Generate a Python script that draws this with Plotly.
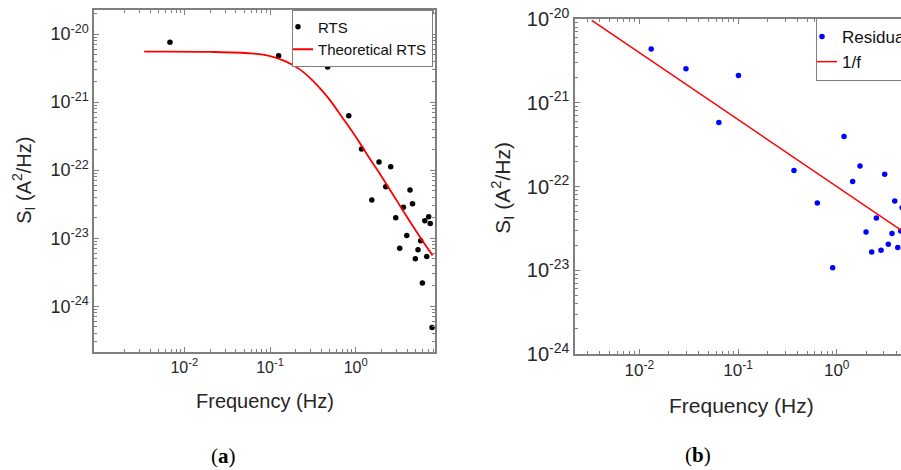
import plotly.graph_objects as go

# ---------------- data ----------------
# Panel (a): RTS spectrum
rts_freq = [0.0068, 0.126, 0.47, 0.83, 1.17, 1.54, 1.87, 2.24, 2.56, 2.93, 3.26, 3.60,
            3.94, 4.30, 4.60, 4.96, 5.33, 5.73, 5.99, 6.40, 6.74, 7.10, 7.40, 7.77]
rts_psd = [7.55e-21, 4.8e-21, 3.27e-21, 6.3e-22, 2.04e-22, 3.63e-23, 1.32e-22, 5.7e-23,
           1.12e-22, 2.0e-23, 7.1e-24, 2.86e-23, 1.1e-23, 5.1e-23, 3.2e-23, 5.0e-24,
           6.8e-24, 9.2e-24, 2.2e-24, 1.8e-23, 5.4e-24, 2.06e-23, 1.65e-23, 4.9e-25]
theo_freq = [0.0034, 0.02, 0.06, 0.1, 0.15, 0.22, 0.3, 0.4, 0.5, 0.7, 1.0, 1.5, 2.0,
             3.0, 4.5, 6.0, 7.9]
theo_psd = [5.5e-21, 5.46e-21, 5.2e-21, 4.75e-21, 4.0e-21, 3.05e-21, 2.2e-21, 1.5e-21,
            1.07e-21, 5.9e-22, 3.1e-22, 1.4e-22, 8.1e-23, 3.6e-23, 1.6e-23, 9.2e-24,
            5.6e-24]

# Panel (b): residual spectrum
res_freq = [0.0132, 0.0297, 0.064, 0.101, 0.369, 0.636, 0.91, 1.186, 1.45, 1.72, 1.98,
            2.26, 2.52, 2.81, 3.06, 3.33, 3.63, 3.87, 4.15, 4.45, 4.59]
res_psd = [4.38e-21, 2.55e-21, 5.8e-22, 2.12e-21, 1.55e-22, 6.35e-23, 1.07e-23, 3.95e-22,
           1.15e-22, 1.76e-22, 2.86e-23, 1.65e-23, 4.2e-23, 1.73e-23, 1.4e-22, 2.04e-23,
           2.74e-23, 6.7e-23, 1.87e-23, 2.94e-23, 5.6e-23]
fit_freq = [0.0033, 8.0]
fit_psd = [9.6e-21, 1.9e-23]

# tick labels
x_tickvals = [0.01, 0.1, 1]
x_ticktext = ["10<sup>-2</sup>", "10<sup>-1</sup>", "10<sup>0</sup>"]
y_tickvals = [1e-24, 1e-23, 1e-22, 1e-21, 1e-20]
y_ticktext = ["10<sup>-24</sup>", "10<sup>-23</sup>", "10<sup>-22</sup>",
              "10<sup>-21</sup>", "10<sup>-20</sup>"]

# ---------------- figure ----------------
W, H = 901, 470
FONT = "Liberation Sans, Arial, sans-serif"
TXT = "#262626"
AX = "#7f7f7f"


def minor_vals(lo, hi):
    vals = []
    for e in range(lo, hi):
        for m in range(2, 10):
            vals.append(m * 10.0 ** e)
    return vals


fig = go.Figure()

fig.add_trace(go.Scatter(x=rts_freq, y=rts_psd, mode="markers", name="RTS",
                         marker=dict(color="black", size=5.5),
                         xaxis="x", yaxis="y", legend="legend"))
fig.add_trace(go.Scatter(x=theo_freq, y=theo_psd, mode="lines", name="Theoretical RTS",
                         line=dict(color="#ff0000", width=1.8, shape="spline"),
                         xaxis="x", yaxis="y", legend="legend"))
fig.add_trace(go.Scatter(x=res_freq, y=res_psd, mode="markers", name="Residual",
                         marker=dict(color="#0000ff", size=5.5),
                         xaxis="x2", yaxis="y2", legend="legend2"))
fig.add_trace(go.Scatter(x=fit_freq, y=fit_psd, mode="lines", name="1/f",
                         line=dict(color="#ff0000", width=1.5),
                         xaxis="x2", yaxis="y2", legend="legend2"))


def axis_common(size):
    return dict(type="log", showgrid=False, zeroline=False, showline=True,
                linecolor=AX, linewidth=1.5, ticks="inside", ticklen=5,
                tickcolor=AX, tickwidth=1,
                tickfont=dict(family=FONT, size=size, color=TXT))


xa = axis_common(16)
xa.update(domain=[94 / W, 435 / W], range=[-3.054, 0.925], anchor="y",
          tickmode="array", tickvals=x_tickvals, ticktext=x_ticktext, mirror="allticks",
          minor=dict(tickmode="array", tickvals=minor_vals(-4, 1), ticks="inside",
                     ticklen=3, tickcolor=AX, showgrid=False))
ya = axis_common(18)
ya.update(domain=[1 - 351.7 / H, 1 - 10 / H], range=[-24.667, -19.647], anchor="x",
          tickmode="array", tickvals=y_tickvals, ticktext=y_ticktext, mirror="allticks",
          minor=dict(tickmode="array", tickvals=minor_vals(-25, -19), ticks="inside",
                     ticklen=3, tickcolor=AX, showgrid=False))
xb = axis_common(17)
xb.update(domain=[575 / W, 1.0], range=[-2.651, 0.651], anchor="y2",
          tickmode="array", tickvals=x_tickvals, ticktext=x_ticktext, mirror="allticks",
          minor=dict(tickmode="array", tickvals=minor_vals(-3, 1), ticks="inside",
                     ticklen=3, tickcolor=AX, showgrid=False))
yb = axis_common(20)
yb.update(domain=[1 - 354 / H, 1 - 19 / H], range=[-24, -20], anchor="x2",
          tickmode="array", tickvals=y_tickvals, ticktext=y_ticktext, mirror=False,
          minor=dict(tickmode="array", tickvals=minor_vals(-24, -20), ticks="inside",
                     ticklen=3, tickcolor=AX, showgrid=False))

legend_style = dict(bgcolor="white", bordercolor=AX, borderwidth=1,
                    font=dict(family=FONT, color="#111111"), itemwidth=30,
                    tracegroupgap=0, indentation=-15)

fig.update_layout(
    width=W, height=H,
    margin=dict(l=0, r=0, t=0, b=0, autoexpand=False),
    paper_bgcolor="white", plot_bgcolor="white",
    font=dict(family=FONT, color=TXT),
    xaxis=xa, yaxis=ya, xaxis2=xb, yaxis2=yb,
    legend=dict(x=433 / W, xanchor="right", y=1 - 9.5 / H, yanchor="top",
                **legend_style),
    legend2=dict(x=816 / W, xanchor="left", y=1 - 18 / H, yanchor="top",
                 **legend_style),
)
fig.layout.legend.font.size = 15
fig.layout.legend2.font.size = 17

annotations = [
    dict(text="S<sub>I</sub> (A<sup>2</sup>/Hz)", x=24 / W, y=1 - 180.8 / H,
         textangle=-90, font=dict(size=20)),
    dict(text="Frequency (Hz)", x=264.5 / W, y=1 - 400.7 / H, font=dict(size=20)),
    dict(text="S<sub>I</sub> (A<sup>2</sup>/Hz)", x=501.7 / W, y=1 - 188 / H,
         textangle=-90, font=dict(size=21)),
    dict(text="Frequency (Hz)", x=741.7 / W, y=1 - 405 / H, font=dict(size=21)),
    dict(text="(<b>a</b>)", x=223.3 / W, y=1 - 456 / H,
         font=dict(size=21, family="Liberation Serif, DejaVu Serif, serif", color="black")),
    dict(text="(<b>b</b>)", x=698.3 / W, y=1 - 455 / H,
         font=dict(size=21, family="Liberation Serif, DejaVu Serif, serif", color="black")),
]
for a in annotations:
    a.update(xref="paper", yref="paper", showarrow=False, xanchor="center",
             yanchor="middle")
    a["font"].setdefault("family", FONT)
    a["font"].setdefault("color", TXT)
fig.update_layout(annotations=annotations)

fig.write_html("out.html", config={"displayModeBar": False},
               post_script="document.body.style.margin='0px';"
                           "document.body.style.overflow='hidden';")
